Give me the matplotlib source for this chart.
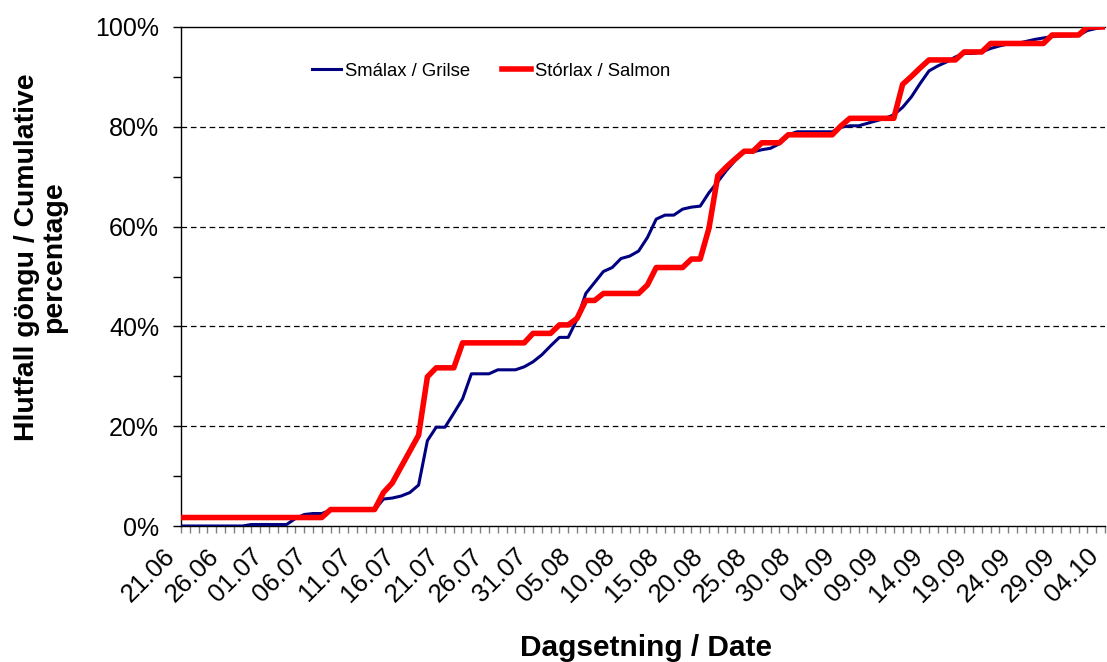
import matplotlib
matplotlib.use("Agg")
import matplotlib.pyplot as plt
from matplotlib.ticker import FixedLocator, MultipleLocator, FuncFormatter
from matplotlib.transforms import ScaledTranslation
import datetime as dt

start = dt.date(2000, 6, 21)
n_days = 106
dates = [start + dt.timedelta(days=i) for i in range(n_days)]
tick_labels = [d.strftime("%d.%m") for d in dates]

# Smálax / Grilse cumulative %
grilse = (
    [0.0] * 8 + [0.3] * 5 + [1.5, 2.3, 2.5, 2.5] + [3.2] * 6 +
    [5.4, 5.6, 6.0, 6.7, 8.2, 17.1, 19.8, 19.8, 22.6, 25.5,
     30.5, 30.5, 30.5, 31.3, 31.3, 31.3, 31.9, 32.9, 34.3, 36.1,
     37.8, 37.8, 41.4, 46.6, 48.8, 51.0, 51.8, 53.6, 54.1, 55.1,
     57.8, 61.5, 62.3, 62.3, 63.5, 63.9, 64.1, 66.8, 69.0, 71.3,
     73.3, 75.0, 75.0, 75.4, 75.7, 76.6, 78.4, 79.0, 79.0, 79.0,
     79.0, 79.0, 79.9, 80.2, 80.2, 80.7, 81.2, 81.7, 82.4, 83.9,
     86.0, 88.7, 91.2, 92.2, 93.0, 94.0, 94.7, 94.7, 95.0, 95.7,
     96.2, 96.6, 96.7, 97.1, 97.5, 97.8, 98.1, 98.2, 98.2, 98.3,
     99.3, 99.7, 100.0]
)

# Stórlax / Salmon cumulative %
salmon = (
    [1.7] * 17 + [3.3] * 6 +
    [6.7, 8.6, 11.8, 15.0, 18.2, 29.9, 31.7, 31.7, 31.7] +
    [36.7] * 8 + [38.6] * 3 + [40.3] * 2 + [41.6, 45.2, 45.2] +
    [46.6] * 5 + [48.3] + [51.8] * 4 + [53.5] * 2 +
    [59.7, 70.2, 72.0, 73.6, 75.1, 75.1, 76.8, 76.8, 76.8] +
    [78.4] * 6 + [80.2] + [81.7] * 6 + [88.5, 90.1, 91.8] +
    [93.4] * 4 + [95.0] * 3 + [96.7] * 7 + [98.4] * 4 + [100.0] * 3
)

x = list(range(n_days))

fig = plt.figure(figsize=(11.07, 6.62), dpi=100)
ax = fig.add_axes([181 / 1107, 136 / 662, 924 / 1107, 499 / 662])

font = "Liberation Sans"

for yv in [20, 40, 60, 80]:
    ax.axhline(yv, color="black", lw=0.9, dashes=(4.5, 3.0), zorder=1)

ax.plot(x, grilse, color="#000080", lw=2.2, label="Smálax / Grilse", zorder=3)
ax.plot(x, salmon, color="#FF0000", lw=4.0, label="Stórlax / Salmon", zorder=4)

ax.set_xlim(0, n_days - 1)
ax.set_ylim(0, 100)

ax.xaxis.set_major_locator(FixedLocator(list(range(0, n_days, 5))))
ax.xaxis.set_minor_locator(FixedLocator(list(range(0, n_days))))
ax.tick_params(axis="x", which="both", length=5, color="#808080", width=1, pad=14)
ax.set_xticklabels([tick_labels[i] for i in range(0, n_days, 5)],
                   rotation=45, ha="right", va="center", rotation_mode="anchor",
                   fontsize=18.5, family=font)

ax.yaxis.set_major_locator(MultipleLocator(20))
ax.yaxis.set_minor_locator(MultipleLocator(10))
ax.yaxis.set_major_formatter(FuncFormatter(lambda v, p: f"{int(v)}%"))
ax.tick_params(axis="y", which="both", length=5.8, color="black", width=1, pad=10)
for lbl in ax.get_yticklabels():
    lbl.set_fontsize(18)
    lbl.set_family(font)

ax.spines["right"].set_visible(False)
for s in ["left", "bottom", "top"]:
    ax.spines[s].set_color("black")
    ax.spines[s].set_linewidth(1.0)

ax.set_ylabel("Hlutfall göngu / Cumulative\npercentage", fontsize=20.4,
              fontweight="bold", family=font, linespacing=1.05)
ax.yaxis.label.set_va("center")
ax.yaxis.set_label_coords(-(181 - 41) / 924, (526 - 257) / 499)
ax.set_xlabel("Dagsetning / Date", fontsize=21.5, fontweight="bold", family=font)
ax.xaxis.set_label_coords((646 - 181) / 924, -(648 - 526) / 499)
ax.xaxis.label.set_va("center")

leg = fig.legend(loc="center left", bbox_to_anchor=(312 / 1107, 1 - 71 / 662),
                 ncol=2, frameon=False, prop={"family": font, "size": 13.3},
                 borderpad=0, borderaxespad=0, handlelength=1.55,
                 handletextpad=0.22, columnspacing=1.75)

# shift x tick labels left so their ends sit just left of the tick
fig.canvas.draw()
shift = ScaledTranslation(-10 / 100, 0, fig.dpi_scale_trans)
for lbl in ax.get_xticklabels():
    lbl.set_transform(lbl.get_transform() + shift)

fig.savefig("out.png", dpi=100)
